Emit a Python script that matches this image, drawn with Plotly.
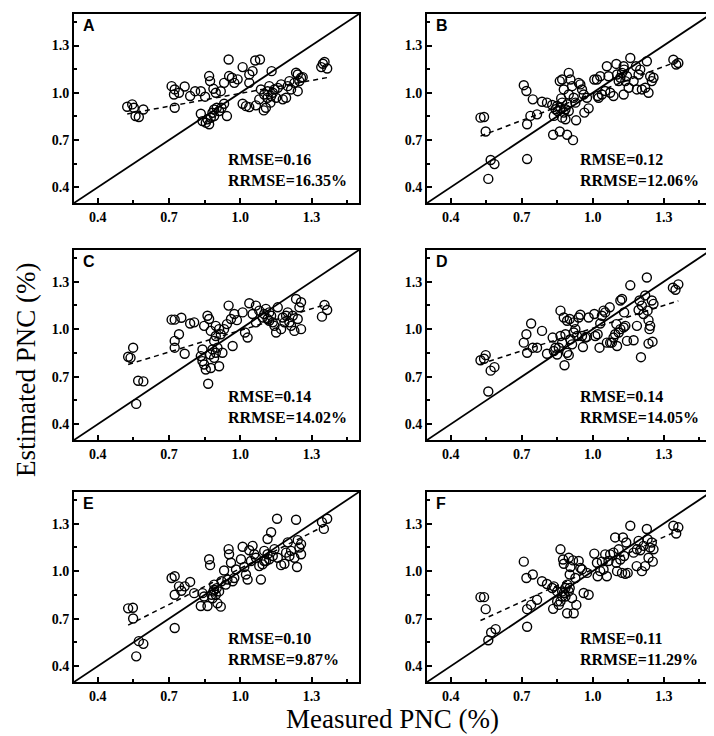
import plotly.graph_objects as go

# ---------------- data ----------------
panel_labels = ["A", "B", "C", "D", "E", "F"]
rmse_values = ["0.16", "0.12", "0.14", "0.14", "0.10", "0.11"]
rrmse_values = ["16.35%", "12.06%", "14.02%", "14.05%", "9.87%", "11.29%"]
fit_slope = [0.274, 0.570, 0.455, 0.477, 0.758, 0.681]
fit_intercept = [0.722, 0.425, 0.537, 0.529, 0.259, 0.330]
tick_values = [0.4, 0.7, 1.0, 1.3]
tick_labels = ["0.4", "0.7", "1.0", "1.3"]
axis_range = [0.3, 1.5]

a_measured = [0.524, 0.545, 0.552, 0.559, 0.573, 0.592, 0.724, 0.711, 0.724, 0.721, 0.742, 0.766, 0.789,
              0.810, 0.834, 0.852, 0.869, 0.873, 0.887, 0.897, 0.918, 0.932, 0.951, 0.953, 0.965, 0.975,
              0.989, 1.010, 1.038, 1.052, 1.038, 1.063, 1.083, 1.132, 0.834, 0.841, 0.855, 0.869, 0.876,
              0.883, 0.890, 0.901, 0.911, 0.921, 0.932, 0.890, 0.862, 0.944, 1.010, 1.024, 1.038, 1.066,
              1.099, 1.108, 1.087, 1.101, 1.115, 1.122, 1.130, 1.137, 1.144, 1.151, 1.158, 1.172, 1.179,
              1.193, 1.200, 1.207, 1.214, 1.228, 1.235, 1.242, 1.242, 1.249, 1.256, 1.263, 1.115, 1.127,
              1.080, 1.348, 1.355, 1.366, 1.341]
a_estimated = [0.911, 0.926, 0.905, 0.852, 0.846, 0.894, 0.905, 1.042, 1.021, 0.989, 1.000, 1.040, 0.979,
               1.010, 1.010, 0.975, 1.106, 1.074, 1.025, 1.000, 1.010, 1.063, 1.211, 1.106, 1.095, 1.063,
               1.085, 1.163, 1.116, 1.137, 1.063, 1.205, 1.211, 1.137, 0.867, 0.820, 0.810, 0.800, 0.841,
               0.873, 0.894, 0.905, 0.884, 0.905, 0.930, 0.852, 0.831, 0.852, 0.930, 0.915, 0.909, 0.920,
               0.888, 0.905, 1.021, 0.989, 1.010, 1.042, 0.979, 1.000, 1.021, 0.968, 1.031, 1.053, 0.958,
               0.968, 1.042, 1.074, 1.021, 1.063, 1.127, 1.116, 1.010, 1.074, 1.095, 1.099, 0.968, 0.937,
               0.958, 1.184, 1.195, 1.154, 1.163]

b_measured = [0.526, 0.541, 0.548, 0.569, 0.585, 0.559, 0.709, 0.720, 0.723, 0.723, 0.747, 0.737, 0.765,
              0.786, 0.807, 0.829, 0.833, 0.861, 0.892, 0.917, 0.930, 0.965, 0.983, 0.861, 0.871, 0.878,
              0.899, 0.906, 0.899, 0.913, 0.920, 0.941, 0.948, 0.955, 0.962, 0.976, 0.836, 0.843, 0.852,
              0.864, 0.871, 0.878, 0.885, 0.892, 0.871, 0.899, 0.867, 0.885, 0.850, 0.927, 1.007, 1.018,
              1.021, 1.025, 1.032, 1.039, 1.053, 1.060, 1.067, 1.074, 1.088, 1.103, 1.100, 1.110, 1.117,
              1.124, 1.131, 1.133, 1.138, 1.145, 1.152, 1.159, 1.173, 1.183, 1.187, 1.201, 1.208, 1.222,
              1.229, 1.236, 1.243, 1.250, 1.257, 1.194, 1.131, 1.341, 1.353, 1.362]
b_estimated = [0.842, 0.846, 0.754, 0.573, 0.547, 0.453, 1.048, 1.011, 0.800, 0.579, 0.958, 0.853, 0.863,
               0.943, 0.937, 0.922, 0.733, 0.754, 0.733, 0.699, 0.825, 0.874, 0.901, 1.074, 1.084, 1.021,
               1.126, 1.084, 0.989, 1.042, 0.968, 1.063, 1.053, 1.021, 0.989, 0.968, 0.853, 0.895, 0.884,
               0.905, 0.937, 0.874, 0.895, 0.926, 0.842, 0.884, 0.964, 0.832, 0.916, 0.937, 1.084, 1.084,
               0.979, 0.968, 1.105, 0.989, 1.011, 1.168, 1.105, 1.000, 0.979, 1.116, 1.183, 1.074, 1.095,
               1.126, 0.989, 1.147, 1.074, 1.105, 1.032, 1.221, 1.074, 1.168, 1.021, 1.147, 1.021, 1.032,
               1.200, 1.000, 1.105, 1.074, 1.095, 1.116, 1.168, 1.210, 1.179, 1.189]

c_measured = [0.528, 0.538, 0.549, 0.570, 0.592, 0.562, 0.711, 0.724, 0.752, 0.724, 0.724, 0.742, 0.766,
              0.789, 0.806, 0.848, 0.862, 0.869, 0.841, 0.834, 0.841, 0.848, 0.855, 0.865, 0.876, 0.890,
              0.897, 0.904, 0.883, 0.873, 0.911, 0.925, 0.890, 0.897, 0.876, 0.897, 0.911, 0.918, 0.932,
              0.944, 0.951, 0.961, 0.968, 0.975, 0.986, 1.010, 1.020, 1.031, 1.038, 1.052, 1.066, 1.066,
              1.080, 1.101, 1.108, 1.115, 1.122, 1.130, 1.137, 1.144, 1.151, 1.158, 1.172, 1.179, 1.193,
              1.200, 1.207, 1.214, 1.221, 1.228, 1.235, 1.242, 1.249, 1.256, 1.256, 1.122, 1.094, 1.186,
              1.344, 1.355, 1.366]
c_estimated = [0.826, 0.819, 0.883, 0.674, 0.670, 0.528, 1.060, 1.060, 1.072, 0.926, 0.883, 0.968, 0.845,
               1.036, 1.043, 1.021, 1.085, 1.064, 0.872, 0.830, 0.798, 0.777, 0.745, 0.655, 0.755, 0.819,
               0.851, 0.883, 0.872, 0.840, 0.766, 0.851, 0.926, 0.957, 0.989, 1.021, 1.000, 0.968, 1.000,
               1.032, 1.149, 1.064, 0.894, 1.096, 1.057, 1.106, 0.979, 0.947, 1.164, 1.096, 1.149, 1.043,
               1.117, 1.096, 1.128, 1.064, 1.106, 1.085, 1.043, 1.021, 0.979, 1.138, 1.000, 1.074, 1.085,
               1.106, 1.043, 1.021, 1.085, 0.989, 1.191, 1.064, 1.138, 1.000, 1.170, 1.053, 1.074, 1.043,
               1.079, 1.153, 1.121]

d_measured = [0.526, 0.541, 0.548, 0.569, 0.585, 0.559, 0.709, 0.720, 0.723, 0.740, 0.747, 0.765, 0.786,
              0.807, 0.831, 0.836, 0.843, 0.850, 0.864, 0.871, 0.878, 0.881, 0.885, 0.892, 0.892, 0.899,
              0.903, 0.906, 0.913, 0.920, 0.927, 0.934, 0.941, 0.948, 0.955, 0.959, 0.969, 0.976, 0.983,
              1.007, 1.011, 1.021, 1.029, 1.032, 1.039, 1.046, 1.053, 1.060, 1.072, 1.074, 1.081, 1.088,
              1.095, 1.100, 1.103, 1.110, 1.117, 1.117, 1.124, 1.131, 1.133, 1.138, 1.145, 1.159, 1.173,
              1.187, 1.194, 1.198, 1.204, 1.208, 1.215, 1.222, 1.229, 1.232, 1.236, 1.240, 1.243, 1.250,
              1.253, 1.257, 1.236, 0.920, 0.864, 0.857, 1.339, 1.350, 1.362]
d_estimated = [0.804, 0.813, 0.836, 0.738, 0.760, 0.606, 0.915, 0.968, 0.851, 1.036, 0.883, 0.883, 0.989,
               0.845, 0.947, 0.862, 0.883, 0.840, 1.117, 0.915, 1.074, 0.772, 0.968, 0.851, 1.053, 0.836,
               1.064, 0.936, 0.904, 0.979, 1.000, 0.957, 1.074, 1.091, 0.957, 0.887, 0.947, 0.951, 1.074,
               1.096, 0.957, 0.968, 0.883, 1.036, 1.085, 1.117, 1.106, 0.915, 1.138, 0.915, 0.915, 0.947,
               0.968, 1.032, 0.894, 0.979, 1.000, 1.181, 1.191, 1.011, 1.106, 1.021, 0.926, 1.277, 0.930,
               1.021, 1.121, 1.181, 0.823, 1.149, 1.096, 1.213, 1.326, 1.117, 1.057, 1.000, 1.021, 1.181,
               0.921, 1.160, 0.909, 1.043, 0.957, 0.883, 1.262, 1.249, 1.283]

e_measured = [0.528, 0.548, 0.549, 0.573, 0.592, 0.562, 0.711, 0.724, 0.724, 0.724, 0.742, 0.752, 0.766,
              0.789, 0.806, 0.834, 0.841, 0.848, 0.862, 0.869, 0.873, 0.883, 0.887, 0.890, 0.897, 0.901,
              0.904, 0.911, 0.918, 0.921, 0.932, 0.939, 0.946, 0.951, 0.953, 0.961, 0.968, 0.975, 0.982,
              1.003, 1.010, 1.017, 1.024, 1.031, 1.038, 1.045, 1.052, 1.059, 1.066, 1.080, 1.087, 1.094,
              1.101, 1.108, 1.115, 1.122, 1.130, 1.137, 1.144, 1.155, 1.158, 1.172, 1.186, 1.193, 1.200,
              1.207, 1.214, 1.228, 1.235, 1.239, 1.242, 1.249, 1.256, 1.256, 1.101, 1.115, 0.890, 0.879,
              1.344, 1.352, 1.366]
e_estimated = [0.765, 0.769, 0.701, 0.558, 0.541, 0.462, 0.957, 0.968, 0.851, 0.641, 0.904, 0.876, 0.904,
               0.932, 0.861, 0.780, 0.861, 0.840, 0.780, 1.075, 1.038, 0.829, 0.872, 0.915, 0.851, 0.893,
               0.797, 0.872, 0.776, 0.936, 1.004, 0.915, 0.947, 1.139, 1.107, 1.053, 0.936, 0.957, 1.011,
               1.075, 1.154, 1.026, 0.979, 0.947, 1.132, 1.064, 1.160, 1.107, 1.085, 1.032, 0.947, 1.043,
               1.128, 1.064, 1.203, 1.075, 1.246, 1.096, 1.139, 1.331, 1.085, 1.038, 1.047, 1.117, 1.182,
               1.096, 1.128, 1.085, 1.325, 1.026, 1.196, 1.149, 1.107, 1.171, 1.064, 1.107, 0.883, 0.851,
               1.310, 1.267, 1.331]

f_measured = [0.526, 0.541, 0.548, 0.559, 0.571, 0.590, 0.709, 0.720, 0.723, 0.723, 0.747, 0.740, 0.765,
              0.786, 0.807, 0.829, 0.833, 0.850, 0.864, 0.871, 0.875, 0.878, 0.885, 0.892, 0.899, 0.903,
              0.906, 0.913, 0.920, 0.927, 0.931, 0.941, 0.948, 0.955, 0.962, 0.976, 0.983, 0.857, 0.864,
              0.871, 0.878, 0.885, 0.892, 0.836, 0.850, 0.899, 0.903, 0.917, 1.007, 1.018, 1.021, 1.032,
              1.039, 1.046, 1.053, 1.060, 1.067, 1.074, 1.088, 1.095, 1.100, 1.103, 1.110, 1.117, 1.124,
              1.128, 1.133, 1.138, 1.142, 1.148, 1.159, 1.173, 1.186, 1.194, 1.201, 1.208, 1.215, 1.222,
              1.229, 1.232, 1.236, 1.243, 1.250, 1.254, 1.257, 1.187, 1.341, 1.353, 1.362]
f_estimated = [0.836, 0.836, 0.760, 0.564, 0.613, 0.634, 1.060, 0.957, 0.760, 0.649, 0.979, 0.787, 0.819,
               0.936, 0.919, 0.894, 0.762, 0.809, 1.138, 0.872, 1.074, 1.047, 0.894, 0.734, 1.085, 0.979,
               1.026, 0.830, 0.734, 0.957, 0.787, 1.064, 1.021, 1.011, 0.862, 0.989, 0.851, 0.787, 0.809,
               0.840, 0.862, 0.840, 0.915, 0.904, 0.872, 0.872, 0.894, 1.068, 1.111, 1.053, 0.968, 1.000,
               1.060, 1.011, 1.106, 0.968, 1.064, 1.106, 1.117, 1.213, 1.053, 1.000, 1.138, 1.074, 0.989,
               1.213, 1.096, 0.983, 1.181, 0.989, 1.287, 1.117, 1.032, 1.191, 1.132, 1.000, 1.160, 1.032,
               1.266, 1.202, 1.085, 1.149, 1.181, 1.060, 1.138, 1.138, 1.287, 1.238, 1.277]

measured = [a_measured, b_measured, c_measured, d_measured, e_measured, f_measured]
estimated = [a_estimated, b_estimated, c_estimated, d_estimated, e_estimated, f_estimated]

# ---------------- layout ----------------
W, H = 714, 736
col_px = [(66, 351), (419, 703)]
row_px = [(6, 195), (242, 432), (484, 674)]

fig = go.Figure()
annotations = []
serif = "Liberation Serif"

for i in range(6):
    r, c = divmod(i, 2)
    n = i + 1
    xa = "x" if n == 1 else f"x{n}"
    ya = "y" if n == 1 else f"y{n}"
    xs, ys = measured[i], estimated[i]

    # 1:1 line
    fig.add_trace(go.Scatter(x=axis_range, y=axis_range, mode="lines",
                             line=dict(color="black", width=1.8),
                             xaxis=xa, yaxis=ya, showlegend=False, hoverinfo="skip"))
    # points
    fig.add_trace(go.Scatter(x=xs, y=ys, mode="markers",
                             marker=dict(symbol="circle-open", size=9, color="black",
                                         line=dict(color="black", width=1.4)),
                             xaxis=xa, yaxis=ya, showlegend=False))
    # regression line
    x0, x1 = min(xs), max(xs)
    fx = [x0, x1]
    fy = [fit_slope[i] * v + fit_intercept[i] for v in fx]
    fig.add_trace(go.Scatter(x=fx, y=fy, mode="lines",
                             line=dict(color="black", width=1.5, dash="5px,4px"),
                             xaxis=xa, yaxis=ya, showlegend=False, hoverinfo="skip"))

    x_dom = [col_px[c][0] / W, col_px[c][1] / W]
    y_dom = [1 - row_px[r][1] / H, 1 - row_px[r][0] / H]
    axis_common = dict(range=axis_range, tickvals=tick_values, ticktext=tick_labels,
                       ticks="inside", ticklen=5, tickwidth=1.5, tickcolor="black",
                       minor=dict(ticks="inside", ticklen=3, tickwidth=1.5, tickcolor="black",
                                  tickvals=[0.55, 0.85, 1.15, 1.45]),
                       showline=True, linecolor="black", linewidth=2, mirror=True,
                       showgrid=False, zeroline=False,
                       tickfont=dict(family=serif, size=14, color="black", weight="bold"))
    fig.update_layout(**{
        ("xaxis" if n == 1 else f"xaxis{n}"): dict(domain=x_dom, anchor=ya, **axis_common),
        ("yaxis" if n == 1 else f"yaxis{n}"): dict(domain=y_dom, anchor=xa, **axis_common),
    })

    annotations.append(dict(text=panel_labels[i], xref=f"{xa} domain", yref=f"{ya} domain",
                            x=0.025, y=0.995, xanchor="left", yanchor="top", showarrow=False,
                            font=dict(family="Liberation Sans", size=16, color="black", weight="bold")))
    annotations.append(dict(text=f"RMSE={rmse_values[i]}<br>RRMSE={rrmse_values[i]}",
                            xref=f"{xa} domain", yref=f"{ya} domain",
                            x=0.532, y=0.062, xanchor="left", yanchor="bottom", align="left",
                            showarrow=False,
                            font=dict(family=serif, size=16, color="black", weight="bold")))

annotations.append(dict(text="Measured PNC (%)", xref="paper", yref="paper",
                        x=384 / W, y=1 - 711 / H, xanchor="center", yanchor="middle",
                        showarrow=False, font=dict(family=serif, size=27, color="black")))
annotations.append(dict(text="Estimated PNC (%)", xref="paper", yref="paper",
                        x=18 / W, y=1 - 362 / H, xanchor="center", yanchor="middle", textangle=-90,
                        showarrow=False, font=dict(family=serif, size=27, color="black")))

fig.update_layout(width=W, height=H, margin=dict(l=0, r=0, t=0, b=0),
                  paper_bgcolor="white", plot_bgcolor="white",
                  annotations=annotations, showlegend=False)

fig.write_html("out.html")
